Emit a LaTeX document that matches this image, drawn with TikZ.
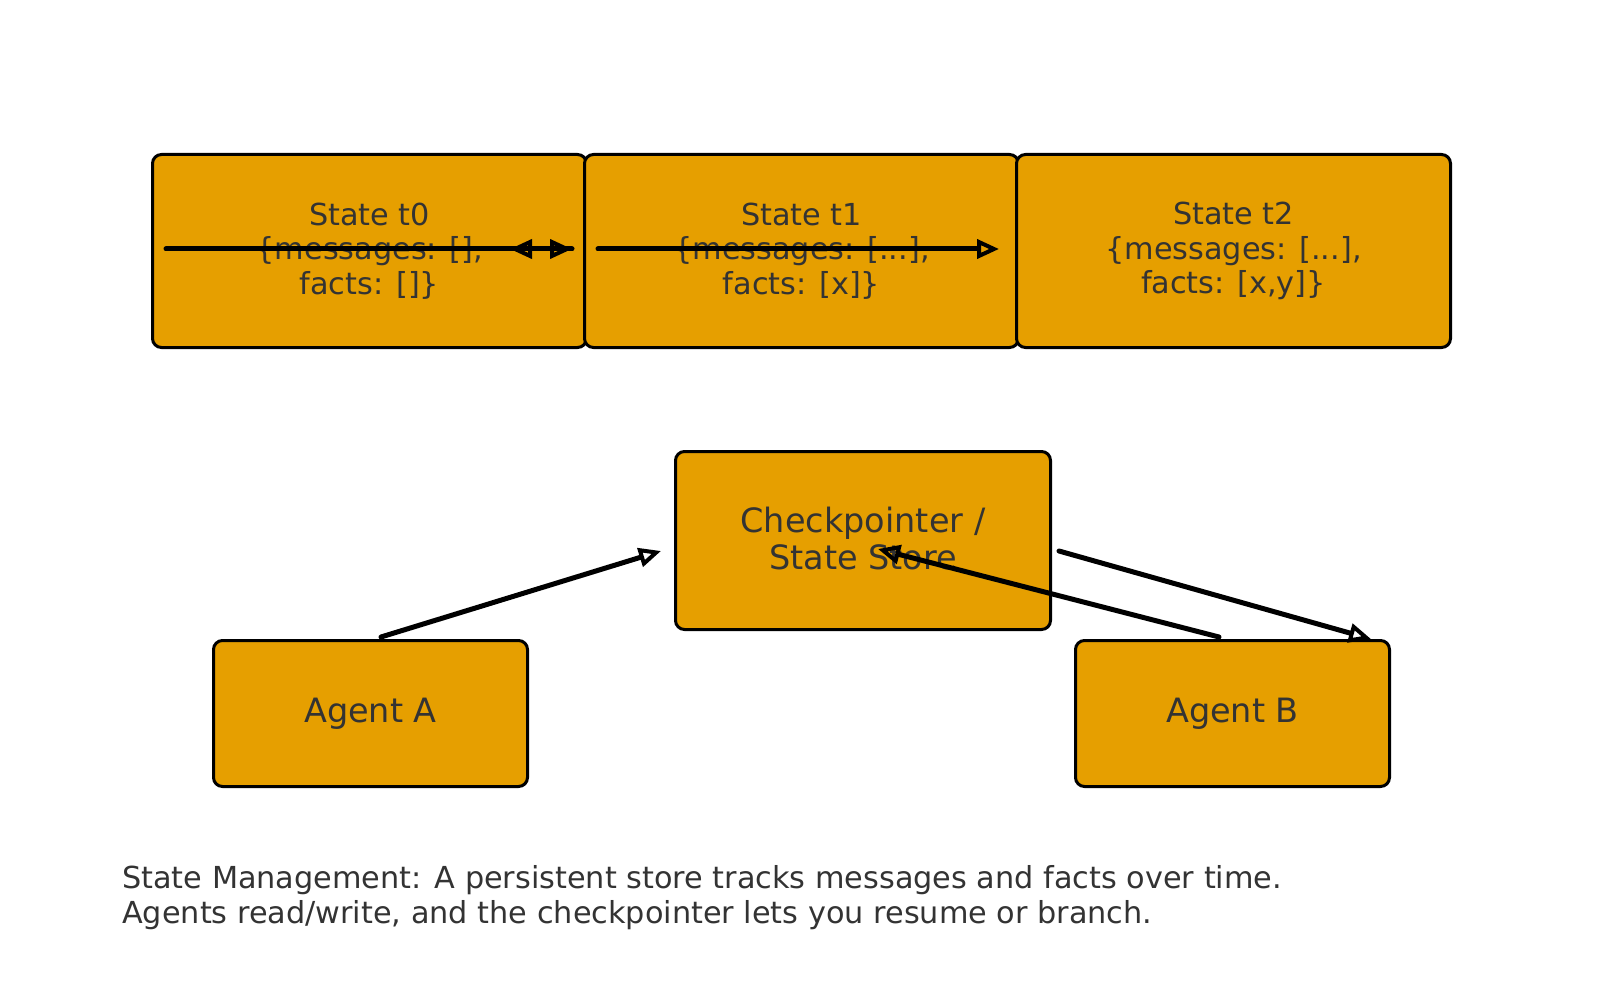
\documentclass[tikz,border=0pt]{standalone}
\usepackage{fontspec}
\setmainfont{DejaVu Sans}
\usetikzlibrary{arrows.meta}
\definecolor{boxfill}{HTML}{E69F00}
\definecolor{txt}{HTML}{333333}
\tikzset{
  box/.style={draw=black, line width=3pt, fill=boxfill, rounded corners=9pt, anchor=north west, inner sep=0pt, text=txt, align=center},
  small/.style={font=\fontsize{30.3}{34.5}\selectfont},
  big/.style={font=\fontsize{33.5}{37.5}\selectfont},
  conn/.style={line width=5pt, -{Triangle[open, length=22pt, width=19pt, line width=4pt]}, line cap=round}
}
\begin{document}
\begin{tikzpicture}[x=1pt,y=-1pt]
\useasboundingbox (0,0) rectangle (1600,1000);
\node[box, small, minimum width=434pt, minimum height=193pt] (t0) at (151,153) {};
\node[small, text=txt, align=center] at (t0.center) {State t0\\\{messages: [],\\facts: []\}};
\node[box, small, minimum width=434pt, minimum height=193pt] (t1) at (583,153) {};
\node[small, text=txt, align=center] at (t1.center) {State t1\\\{messages: [...],\\facts: [x]\}};
\node[box, small, minimum width=434pt, minimum height=193pt] (t2) at (1015,153) {};
\node[small, text=txt, align=center] at (t2.center) {State t2\\\{messages: [...],\\facts: [x,y]\}};
\node[box, minimum width=375pt, minimum height=178pt] (cp) at (674,450) {};
\node[big, text=txt, align=center] at ([yshift=2pt]cp.center) {Checkpointer /\\State Store};
\node[box, big, minimum width=314pt, minimum height=146pt] (a) at (212,639) {Agent A};
\node[box, big, minimum width=314pt, minimum height=146pt] (b) at (1074,639) {Agent B};
\node[small, text=txt, align=left, anchor=base west, inner sep=0pt] (cap) at (122,923) {State Management: A persistent store tracks messages and facts over time.\\Agents read/write, and the checkpointer lets you resume or branch.};
% connectors
\coordinate (s0) at (166,249);
\coordinate (e0) at (572,249);
\coordinate (r0) at (510,249);
\coordinate (s1) at (598,249);
\coordinate (e1) at (999,249);
\coordinate (aout) at (381,637);
\coordinate (cpin) at (661,551);
\coordinate (cpout) at (1059,551);
\coordinate (bin) at (1371,639);
\coordinate (bout) at (1219,637);
\coordinate (cpin2) at (878,549);
\draw[conn] (s0) -- (e0);
\draw[conn] (e0) -- (r0);
\draw[conn] (s1) -- (e1);
\draw[conn] (aout) -- (cpin);
\draw[conn] (cpout) -- (bin);
\draw[conn] (bout) -- (cpin2);
\end{tikzpicture}
\end{document}
